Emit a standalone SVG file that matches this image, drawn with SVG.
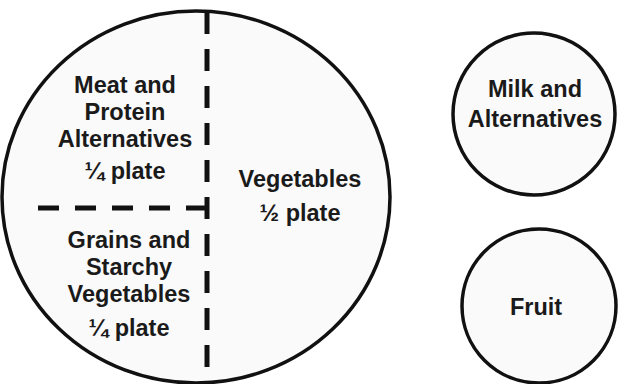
<svg xmlns="http://www.w3.org/2000/svg" width="624" height="384" viewBox="0 0 624 384">
  <style>
    .disc { fill: #fafafa; stroke: #111; stroke-width: 3.5; }
    .lbl { font-family: "Liberation Sans", Arial, sans-serif; font-weight: bold; font-size: 23.5px; fill: #1a1a1a; text-anchor: middle; }
    .div { stroke: #111; stroke-width: 5; fill: none; }
  </style>
  <rect width="624" height="384" fill="#ffffff"/>
  <g id="plate">
    <ellipse class="disc" cx="196" cy="197" rx="194" ry="186"/>
    <text class="lbl" x="125" y="93">Meat and</text>
    <text class="lbl" x="125" y="120">Protein</text>
    <text class="lbl" x="125" y="147">Alternatives</text>
    <text class="lbl" x="125" y="179">¼ plate</text>
    <text class="lbl" x="129" y="248">Grains and</text>
    <text class="lbl" x="129" y="275">Starchy</text>
    <text class="lbl" x="129" y="302">Vegetables</text>
    <text class="lbl" x="129" y="336">¼ plate</text>
    <text class="lbl" x="300" y="187">Vegetables</text>
    <text class="lbl" x="300" y="221">½ plate</text>
  </g>
  <g id="connectors">
    <path class="div" d="M207,12 V382" stroke-dasharray="22 15"/>
    <path class="div" d="M207,208 H37" stroke-dasharray="21 16"/>
  </g>
  <g id="milk">
    <circle class="disc" cx="534" cy="114" r="81"/>
    <text class="lbl" x="535" y="97">Milk and</text>
    <text class="lbl" x="535" y="127">Alternatives</text>
  </g>
  <g id="fruit">
    <circle class="disc" cx="539" cy="306" r="77"/>
    <text class="lbl" x="536" y="315">Fruit</text>
  </g>
</svg>
